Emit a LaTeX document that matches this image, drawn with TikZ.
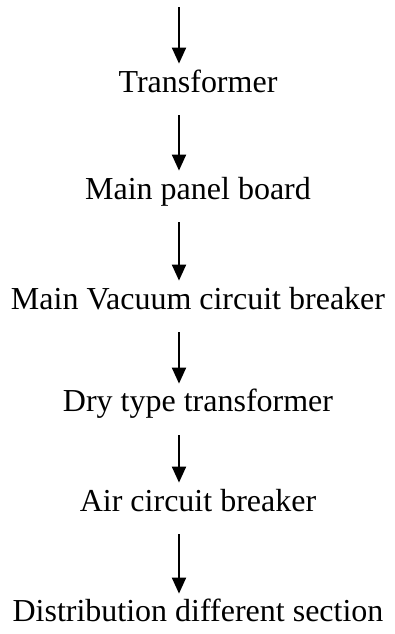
\documentclass[tikz,border=0pt]{standalone}
\usepackage{fontspec}
\setmainfont{Liberation Serif}
\usepackage{tikz}
\usetikzlibrary{arrows.meta, positioning}

\tikzset{
  stage/.style={anchor=base, font=\fontsize{16}{19}\selectfont, inner xsep=2pt,
                inner ysep=3pt, text height=11pt, text depth=8.5pt},
  flowarrow/.style={line width=1pt, -{Triangle[length=8pt, width=7pt]}}
}

\begin{document}
\begin{tikzpicture}[x=0.5pt, y=0.5pt]
  \useasboundingbox (0,0) rectangle (395,634);

  % Supply in
  \coordinate (supply) at (179,627);

  % Stages
  \node[stage] (transformer) at (198,542) {Transformer};
  \node[stage] (panel)       at (198,435) {Main panel board};
  \node[stage] (vcb)         at (198,325) {Main Vacuum circuit breaker};
  \node[stage] (drytx)       at (198,222) {Dry type transformer};
  \node[stage] (acb)         at (198,123) {Air circuit breaker};
  \node[stage] (dist)        at (198,12)  {Distribution different section};

  % Arrows
  \draw[flowarrow] (supply) -- (supply |- transformer.north);
  \draw[flowarrow] (transformer.south -| supply) -- (panel.north -| supply);
  \draw[flowarrow] (panel.south -| supply) -- (vcb.north -| supply);
  \draw[flowarrow] (vcb.south -| supply) -- (drytx.north -| supply);
  \draw[flowarrow] (drytx.south -| supply) -- (acb.north -| supply);
  \draw[flowarrow] (acb.south -| supply) -- (dist.north -| supply);
\end{tikzpicture}
\end{document}
